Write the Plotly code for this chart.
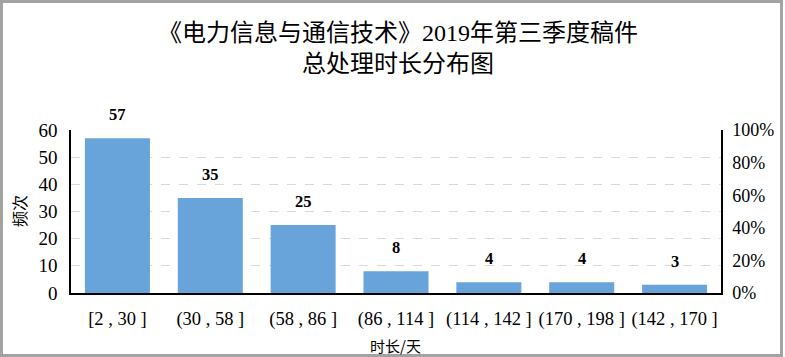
import plotly.graph_objects as go

categories = ["[2 , 30 ]", "(30 , 58 ]", "(58 , 86 ]", "(86 , 114 ]",
              "(114 , 142 ]", "(170 , 198 ]", "(142 , 170 ]"]
frequency = [57, 35, 25, 8, 4, 4, 3]
left_ticks = [0, 10, 20, 30, 40, 50, 60]
right_ticks = [0, 0.2, 0.4, 0.6, 0.8, 1.0]
right_tick_labels = ["0%", "20%", "40%", "60%", "80%", "100%"]
title_lines = ["《电力信息与通信技术》2019年第三季度稿件", "总处理时长分布图"]

FONT = "Liberation Serif, Times New Roman, Noto Sans CJK SC"
CJK = "Noto Sans CJK SC, Liberation Serif"

W, H = 785, 357
ML, MR, MT, MB = 71, 64, 130, 64
PW, PH = W - ML - MR, H - MT - MB

def px_x(p):
    return (p - ML) / PW

def px_y(p):
    return (H - MB - p) / PH

fig = go.Figure()
fig.add_trace(go.Bar(
    x=categories, y=frequency, marker=dict(color="#68a4da", line=dict(width=0)),
    hoverinfo="skip", showlegend=False,
))
total = sum(frequency)
fig.add_trace(go.Scatter(
    x=categories, y=[v / total for v in frequency], yaxis="y2",
    mode="markers", marker=dict(opacity=0), hoverinfo="skip", showlegend=False,
))

for c, v in zip(categories, frequency):
    fig.add_annotation(x=c, y=v, text="<b>%d</b>" % v, showarrow=False,
                       yanchor="bottom", yshift=12,
                       font=dict(family=FONT, size=16.5, color="#000"))

# title lines
for txt, cy in zip(title_lines, [33, 64]):
    fig.add_annotation(xref="paper", yref="paper", x=px_x(398), y=px_y(cy),
                       xanchor="center", yanchor="middle", showarrow=False,
                       text=txt, font=dict(family=FONT, size=24, color="#000"))

# axis titles
fig.add_annotation(xref="paper", yref="paper", x=px_x(395), y=px_y(345),
                   xanchor="center", yanchor="middle", showarrow=False,
                   text="时长/天", font=dict(family=CJK, size=15, color="#000"))
fig.add_annotation(xref="paper", yref="paper", x=px_x(19), y=px_y(211),
                   xanchor="center", yanchor="middle", showarrow=False, textangle=-90,
                   text="频次", font=dict(family=CJK, size=16, color="#000"))

fig.add_shape(type="rect", xref="paper", yref="paper",
              x0=px_x(1.5), x1=px_x(781.5), y0=px_y(1.5), y1=px_y(355.5),
              line=dict(color="#a3a3a3", width=3), fillcolor="rgba(0,0,0,0)", layer="below")

fig.update_layout(
    width=W, height=H,
    margin=dict(l=ML, r=MR, t=MT, b=MB, autoexpand=False),
    paper_bgcolor="white", plot_bgcolor="white",
    bargap=0.30,
    xaxis=dict(showgrid=False, showline=True, linecolor="#000", linewidth=1.5,
               tickfont=dict(family=FONT, size=18.5, color="#000"),
               ticks="", ticklabelstandoff=8, automargin=False),
    yaxis=dict(range=[0, 60], tickvals=left_ticks, showline=True, linecolor="#000",
               linewidth=1.5, gridcolor="#d9d9d9", griddash="dash", gridwidth=1,
               zeroline=False, ticks="", ticklabelstandoff=8, automargin=False,
               tickfont=dict(family=FONT, size=19, color="#000")),
    yaxis2=dict(range=[0, 1], overlaying="y", side="right", tickvals=right_ticks,
                ticktext=right_tick_labels, showline=True, linecolor="#000",
                linewidth=1.5, showgrid=False, zeroline=False, ticks="",
                ticklabelstandoff=6, automargin=False,
                tickfont=dict(family=FONT, size=18, color="#000")),
)

fig.write_html("out.html", config={"displayModeBar": False},
               post_script="document.body.style.margin='0';document.body.style.overflow='hidden';")
